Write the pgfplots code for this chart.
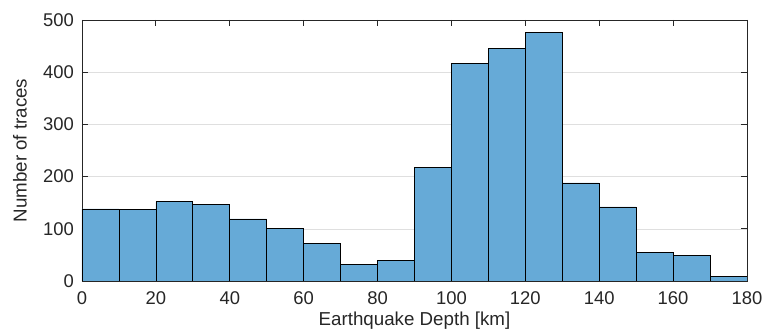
\documentclass[border=0pt]{standalone}
\usepackage{pgfplots}
\pgfplotsset{compat=1.18}
\usepackage{fontspec}
\setmainfont{Liberation Sans}

\definecolor{barfill}{RGB}{102,170,215}
\definecolor{axgray}{RGB}{38,38,38}
\definecolor{gridgray}{RGB}{223,223,223}

\begin{document}
\begin{tikzpicture}
\useasboundingbox (-82bp,-49bp) rectangle (687bp,281bp);
\begin{axis}[
  at={(0,0)}, anchor=south west,
  scale only axis,
  width=665bp, height=261bp,
  xmin=0, xmax=180, ymin=0, ymax=500,
  xtick={0,20,...,180},
  ytick={0,100,...,500},
  tick align=inside,
  major tick length=6.5bp,
  ymajorgrids,
  grid style={gridgray, line width=0.6pt},
  axis line style={axgray, line width=0.8pt},
  tick style={axgray, line width=0.8pt},
  every tick label/.append style={text=axgray, font=\fontsize{18.5}{21}\selectfont},
  xticklabel style={inner sep=0pt, yshift=-10.5bp},
  yticklabel style={inner sep=0pt, xshift=-8bp},
  /pgf/number format/assume math mode=true,
  xlabel={Earthquake Depth [km]},
  ylabel={Number of traces},
  label style={text=axgray, font=\fontsize{18.8}{21}\selectfont},
  xlabel style={at={(axis description cs:0.5,-0.153)}, anchor=center},
  ylabel style={at={(axis description cs:-0.0932,0.5)}, anchor=center, rotate=0},
]
\addplot[ybar interval, fill=barfill, draw=black, line width=0.7pt] coordinates {
  (0,138) (10,137) (20,152) (30,147) (40,119) (50,101) (60,72) (70,31) (80,39)
  (90,217) (100,417) (110,445) (120,476) (130,188) (140,142) (150,55) (160,49)
  (170,8) (180,8)
};
\end{axis}
\end{tikzpicture}
\end{document}
